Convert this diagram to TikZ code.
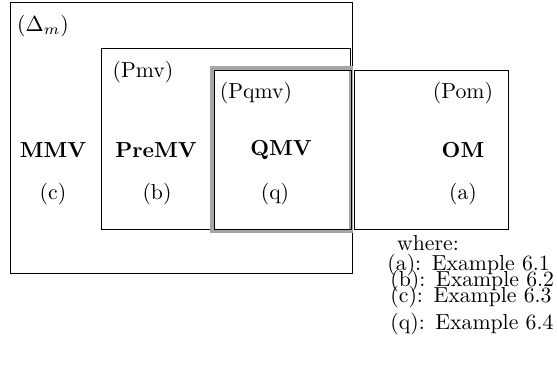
\documentclass[tikz,border=0pt]{standalone}
\begin{document}
\begin{tikzpicture}[x=0.46pt,y=-0.46pt,
  frame/.style={draw=black,line width=0.45pt},
  regtag/.style={anchor=base,inner sep=0pt},
  regname/.style={anchor=base,inner sep=0pt,font=\bfseries},
  keyline/.style={anchor=base west,inner sep=0pt}]
\useasboundingbox (0,0) rectangle (557,369);

% nested regions
\draw[frame] (10,2) rectangle (352,273);
\draw[frame] (101,48) rectangle (350,229);
\draw[frame] (354,70) rectangle (508,229);
% the highlighted region
\draw[gray!70,line width=1.5pt] (212,68) rectangle (351,231);
\draw[frame] (214,70) rectangle (351,229);

% region tags
\node[regtag] (tDm)   at (43,31)  {$(\Delta_m)$};
\node[regtag] (tPmv)  at (143,77) {(Pmv)};
\node[regtag] (tPqmv) at (256,98) {(Pqmv)};
\node[regtag] (tPom)  at (463,98) {(Pom)};

% region names
\node[regname] (nMMV)   at (53,157)  {MMV};
\node[regname] (nPreMV) at (156,157) {PreMV};
\node[regname] (nQMV)   at (281,155) {QMV};
\node[regname] (nOM)    at (463,157) {OM};

% example markers
\node[regtag] (mc) at (53,199)  {(c)};
\node[regtag] (mb) at (157,199) {(b)};
\node[regtag] (mq) at (275,199) {(q)};
\node[regtag] (ma) at (463,199) {(a)};

% key
\node[regtag] (where) at (428,250) {where:};
\node[keyline] (ka) at (387,270) {(a):\ \hspace{1.5pt}Example 6.1};
\node[keyline] (kb) at (390,286) {(b):\ \hspace{1.5pt}Example 6.2};
\node[keyline] (kc) at (390,302) {(c):\ \hspace{1.5pt}Example 6.3};
\node[keyline] (kq) at (390,329) {(q):\ \hspace{1.5pt}Example 6.4};
\end{tikzpicture}
\end{document}
